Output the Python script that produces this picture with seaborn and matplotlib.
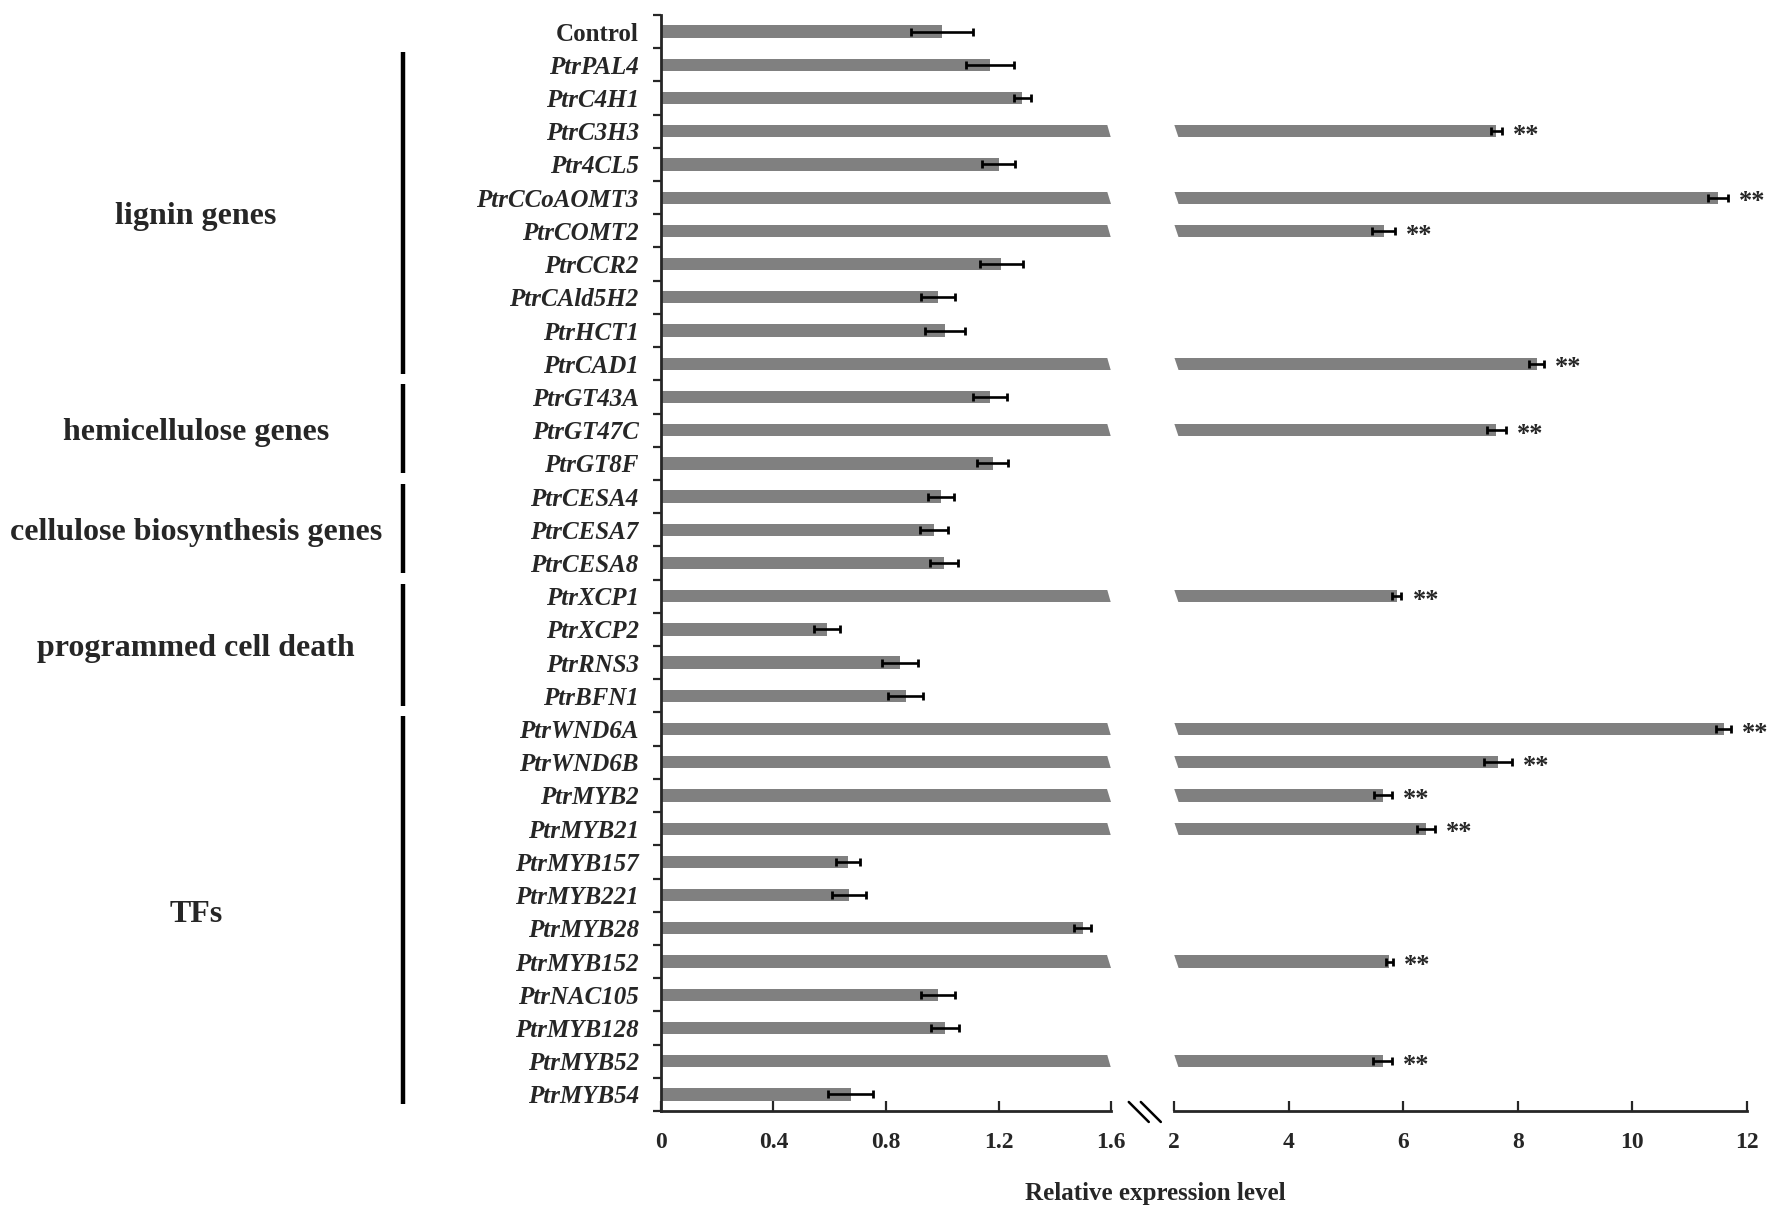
import numpy as np
import pandas as pd
import matplotlib
matplotlib.use('Agg')
import matplotlib.pyplot as plt
import matplotlib.transforms as mtransforms
from matplotlib.patches import Polygon
from matplotlib.lines import Line2D
import seaborn as sns

# data
genes = ['Control', 'PtrPAL4', 'PtrC4H1', 'PtrC3H3', 'Ptr4CL5', 'PtrCCoAOMT3',
         'PtrCOMT2', 'PtrCCR2', 'PtrCAld5H2', 'PtrHCT1', 'PtrCAD1', 'PtrGT43A',
         'PtrGT47C', 'PtrGT8F', 'PtrCESA4', 'PtrCESA7', 'PtrCESA8', 'PtrXCP1',
         'PtrXCP2', 'PtrRNS3', 'PtrBFN1', 'PtrWND6A', 'PtrWND6B', 'PtrMYB2',
         'PtrMYB21', 'PtrMYB157', 'PtrMYB221', 'PtrMYB28', 'PtrMYB152',
         'PtrNAC105', 'PtrMYB128', 'PtrMYB52', 'PtrMYB54']
expr = [1.0, 1.17, 1.285, 7.63, 1.20, 11.5, 5.66, 1.21, 0.985, 1.01, 8.33,
        1.17, 7.63, 1.18, 0.995, 0.97, 1.005, 5.89, 0.59, 0.85, 0.87, 11.6,
        7.66, 5.65, 6.4, 0.665, 0.668, 1.5, 5.76, 0.985, 1.01, 5.64, 0.675]
sem = [0.11, 0.085, 0.03, 0.1, 0.06, 0.17, 0.2, 0.077, 0.06, 0.07, 0.13,
       0.06, 0.16, 0.055, 0.045, 0.05, 0.05, 0.08, 0.047, 0.065, 0.063, 0.13,
       0.24, 0.16, 0.16, 0.043, 0.06, 0.03, 0.06, 0.06, 0.05, 0.17, 0.08]
signif = ['PtrC3H3', 'PtrCCoAOMT3', 'PtrCOMT2', 'PtrCAD1', 'PtrGT47C',
          'PtrXCP1', 'PtrWND6A', 'PtrWND6B', 'PtrMYB2', 'PtrMYB21',
          'PtrMYB152', 'PtrMYB52']

groups = ['lignin genes', 'hemicellulose genes', 'cellulose biosynthesis genes',
          'programmed cell death', 'TFs']
group_first = ['PtrPAL4', 'PtrGT43A', 'PtrCESA4', 'PtrXCP1', 'PtrWND6A']
group_last = ['PtrCAD1', 'PtrGT8F', 'PtrCESA8', 'PtrBFN1', 'PtrMYB54']

left_ticks = [0, 0.4, 0.8, 1.2, 1.6]
left_ticklabels = ['0', '0.4', '0.8', '1.2', '1.6']
right_ticks = [2, 4, 6, 8, 10, 12]

sns.set_style('white')
plt.rcParams['font.family'] = ['Liberation Serif', 'DejaVu Serif']
plt.rcParams['font.weight'] = 'bold'

df = pd.DataFrame({'gene': genes, 'expr': expr, 'sem': sem})
n = len(genes)
ypos = np.arange(n)
vals = np.array(expr)
errs = np.array(sem)
cut_left, cut_right = 1.6, 2.0
h = 0.37

fig = plt.figure(figsize=(17.72, 12.19), dpi=100)
ax1 = fig.add_axes([0.373, 0.0886, 0.254, 0.8991])
ax2 = fig.add_axes([0.6626, 0.0886, 0.3231, 0.8991])

for ax in (ax1, ax2):
    sns.barplot(data=df, x='expr', y='gene', order=genes, color='#808080',
                saturation=1, width=h, errorbar=None, linewidth=0, ax=ax)
    ax.set_ylim(n - 0.5, -0.5)
    ax.set_xlabel('')
    ax.set_ylabel('')

ax1.set_xlim(0, cut_left)
ax2.set_xlim(cut_right, 12)

# error bars
small = vals <= cut_left
big = ~small
ax1.errorbar(vals[small], ypos[small], xerr=errs[small], fmt='none',
             ecolor='black', elinewidth=1.9, capsize=3.2, capthick=2, zorder=4)
ax2.errorbar(vals[big], ypos[big], xerr=errs[big], fmt='none',
             ecolor='black', elinewidth=1.9, capsize=3.2, capthick=2, zorder=4)

# slanted cut on broken bars
for y in ypos[big]:
    top, bot = y - h / 2, y + h / 2
    ax1.add_patch(Polygon([(cut_left - 0.014, top - 0.02), (1.7, top - 0.02),
                           (1.7, bot + 0.02), (cut_left, bot + 0.02)],
                          closed=True, facecolor='white', lw=0, zorder=3))
    ax2.add_patch(Polygon([(1.8, top - 0.02), (cut_right, top - 0.02),
                           (cut_right + 0.08, bot + 0.02), (1.8, bot + 0.02)],
                          closed=True, facecolor='white', lw=0, zorder=3))

# significance stars
for g in signif:
    i = genes.index(g)
    ax2.annotate('**', xy=(vals[i] + errs[i], i), xytext=(8, -3),
                 textcoords='offset points', ha='left', va='center', fontsize=19)

# axes styling
ax1.set_yticks(np.arange(n + 1) - 0.5)
ax1.set_yticklabels([])
ax1.set_yticks(ypos, minor=True)
ax1.set_yticklabels(genes, minor=True)
ax1.tick_params(axis='y', which='major', direction='out', length=6, width=1.6, left=True)
ax1.tick_params(axis='y', which='minor', length=0, pad=16, labelsize=18)
for lbl in ax1.get_yticklabels(minor=True):
    lbl.set_fontweight('bold')
    if lbl.get_text() != 'Control':
        lbl.set_fontstyle('italic')

ax1.set_xticks(left_ticks)
ax1.set_xticklabels(left_ticklabels)
ax2.set_xticks(right_ticks)
ax2.set_xticklabels([str(t) for t in right_ticks])
ax2.set_yticks([])
for ax in (ax1, ax2):
    ax.tick_params(axis='x', direction='in', length=7, width=1.6, pad=15,
                   labelsize=17, bottom=True)
    ax.spines['top'].set_visible(False)
    ax.spines['right'].set_visible(False)
    ax.spines['bottom'].set_linewidth(2)
    ax.spines['left'].set_linewidth(2)
    ax.grid(False)
ax2.spines['left'].set_visible(False)

# group brackets and labels
trans = mtransforms.blended_transform_factory(fig.transFigure, ax1.transData)
for name, g0, g1 in zip(groups, group_first, group_last):
    i0, i1 = genes.index(g0), genes.index(g1)
    ax1.plot([0.2277, 0.2277], [i0 - 0.38, i1 + 0.3], color='black', lw=3.2,
             transform=trans, clip_on=False, solid_capstyle='butt')
    ax1.text(0.1106, (i0 + i1) / 2 + 0.08, name, transform=trans, ha='center',
             va='center', fontsize=23, fontweight='bold')

# axis break marks
for dx in (0.0, 0.0068):
    fig.add_artist(Line2D([0.6370 + dx, 0.6483 + dx], [0.0960, 0.0796],
                          color='black', lw=1.8))

fig.text(0.652, 0.021, 'Relative expression level', ha='center', va='center',
         fontsize=18, fontweight='bold')

fig.savefig('out.png', dpi=100, facecolor='white')
